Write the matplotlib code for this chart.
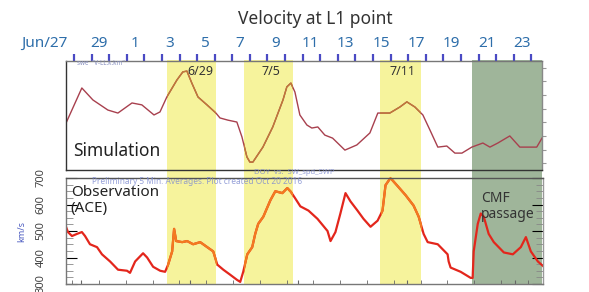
import numpy as np
import matplotlib.pyplot as plt
from matplotlib.patches import Rectangle

plt.rcParams['font.family'] = ['Noto Sans', 'DejaVu Sans']

# day index: 0 = Jun 27
day_labels = ["Jun/27", "29", "1", "3", "5", "7", "9", "11", "13", "15", "17", "19", "21", "23"]
label_days = list(range(0, 27, 2))

yellow_bands = [(5.28, 8.1), (9.66, 12.44), (17.4, 19.75)]
green_band = (22.6, 26.6)
band_notes = ["6/29", "7/5", "7/11"]

# simulation (top panel), km/s
sim_day = [-0.45, 0.45, 1.08, 1.93, 2.5, 3.3, 3.86, 4.55, 4.89, 5.28, 5.85, 6.19, 6.42, 6.7, 7.05,
           7.56, 8.07, 8.3, 8.75, 9.26, 9.55, 9.83, 10.0, 10.17, 10.74, 11.3, 11.88, 12.1, 12.33,
           12.56, 12.84, 13.24, 13.52, 13.86, 14.26, 14.7, 15.4, 16.08, 16.82, 17.27, 17.95, 18.52,
           18.92, 19.38, 19.83, 20.23, 20.68, 21.19, 21.65, 22.05, 22.61, 23.24, 23.64, 24.09,
           24.77, 25.34, 25.8, 26.3, 26.6]
sim_v = [472, 601, 557, 520, 509, 546, 539, 502, 513, 568, 630, 660, 663, 619, 568,
         539, 509, 491, 483, 476, 421, 348, 329, 329, 384, 458, 557, 605, 619,
         586, 502, 465, 454, 458, 428, 417, 373, 392, 436, 509, 509, 531,
         550, 531, 502, 447, 384, 388, 362, 362, 384, 399, 384, 399,
         425, 384, 384, 384, 417]

# observation (ACE, bottom panel), km/s
obs_day = [-0.45, -0.34, -0.11, 0.17, 0.45, 0.63, 0.91, 1.31, 1.59, 2.05, 2.5, 3.01, 3.18, 3.47,
           3.92, 4.15, 4.49, 4.89, 5.17, 5.34, 5.57, 5.68, 5.8, 6.14, 6.42, 6.76, 7.16, 7.56, 7.9,
           8.13, 8.47, 8.86, 9.26, 9.43, 9.6, 9.83, 10.11, 10.28, 10.45, 10.74, 11.14, 11.42,
           11.82, 12.1, 12.3, 12.56, 12.84, 13.3, 13.81, 14.38, 14.55, 14.83, 15.11, 15.4, 15.68,
           16.08, 16.42, 16.82, 17.22, 17.5, 17.67, 17.95, 18.35, 18.81, 19.26, 19.55, 19.83,
           20.06, 20.63, 21.19, 21.25, 21.36, 21.93, 22.5, 22.61, 22.67, 22.9, 23.07, 23.24,
           23.52, 23.81, 24.38, 24.89, 25.34, 25.63, 25.91, 26.31, 26.65]
obs_v = [516, 496, 481, 489, 496, 481, 450, 439, 412, 385, 354, 350, 342, 385,
         416, 400, 365, 350, 346, 373, 423, 508, 462, 458, 462, 450, 458, 439, 423,
         373, 354, 335, 315, 308, 346, 412, 439, 489, 527, 554, 616, 650,
         643, 662, 648, 622, 593, 577, 546, 500, 462, 496, 566, 643, 612,
         577, 546, 516, 539, 577, 673, 700, 670, 635, 596, 554, 489,
         458, 450, 412, 385, 362, 346, 323, 323, 423, 527, 566, 554,
         489, 458, 419, 412, 439, 477, 423, 385, 365]

obs_ticks = [300, 400, 500, 600, 700]

W, H = 589, 292
fig = plt.figure(figsize=(W / 100, H / 100), dpi=100)

def box(x0, y0, x1, y1):
    return [x0 / W, 1 - y1 / H, (x1 - x0) / W, (y1 - y0) / H]

xlim = (-0.45, 26.6)
yellow = '#f6f39c'
green = '#9fb59a'

bg = fig.add_axes(box(66, 60, 542, 285), zorder=0)
bg.set_xlim(xlim)
bg.set_ylim(0, 1)
for a, b in yellow_bands:
    bg.axvspan(a, b, color=yellow, lw=0)
bg.axvspan(*green_band, color=green, lw=0)
bg.axis('off')

top = fig.add_axes(box(66, 61, 542, 170), zorder=2)
bot = fig.add_axes(box(66, 178, 543, 284), zorder=2)
for ax in (top, bot):
    ax.set_facecolor('none')
    ax.set_xlim(xlim)
    ax.set_ylim(300, 700)
    for s in ax.spines.values():
        s.set_color('#333333')
        s.set_linewidth(1.0)

# top panel lines, colour changes inside yellow bands
top.plot(sim_day, sim_v, color='#a8404e', lw=1.0)
for a, b in yellow_bands:
    ln, = top.plot(sim_day, sim_v, color='#c07a38', lw=1.0)
    ln.set_clip_path(Rectangle((a, 0), b - a, 1000, transform=top.transData))

bot.plot(obs_day, obs_v, color='#e3261c', lw=1.6)
for a, b in yellow_bands:
    ln, = bot.plot(obs_day, obs_v, color='#f37a1f', lw=1.6)
    ln.set_clip_path(Rectangle((a, 0), b - a, 1000, transform=bot.transData))

# top axis: blue day ticks
top.xaxis.set_ticks_position('top')
top.set_xticks(range(0, 27))
top.set_xticklabels([])
top.tick_params(axis='x', which='major', direction='out', length=5, width=1.6,
                color='#4a4ac4', pad=1)
top.set_yticks(np.arange(325, 700, 50))
top.yaxis.set_ticks_position('right')
top.set_yticklabels([])
top.tick_params(axis='y', direction='out', length=3, color='#999999')
top.spines['right'].set_color('#888888')
top.spines['top'].set_color('#777777')

for d, lab in zip(label_days, day_labels):
    if d == 0:
        fig.text(68 / W, 1 - 43 / H, lab, ha='right', va='center', color='#2e6eaa',
                 fontsize=11, fontweight='bold')
    else:
        top.text(d - 0.55, 1 + (61 - 43) / 109, lab, transform=top.get_xaxis_transform(),
                 ha='center', va='center', color='#2e6eaa', fontsize=11, fontweight='bold')

fig.text(0.535, 1 - 19 / H, "Velocity at L1 point", ha='center', va='center',
         fontsize=12.5, color='#333333')

for (a, b), note in zip(yellow_bands, band_notes):
    top.text(a + (b - a) * 0.55 + (0.35 if note == "6/29" else 0), 660, note,
             ha='center', va='center', fontsize=9, color='#333333')

top.text(0.015, 0.17, "Simulation", transform=top.transAxes, ha='left', va='center',
         fontsize=12.5, color='#222222')
top.text(0.2, 690, 'swe  "V-LL.k.km"', fontsize=4.5, color='#8890c0', va='center')

# bottom panel axis
bot.set_yticks(obs_ticks)
bot.set_yticklabels([str(t) for t in obs_ticks], rotation=90, va='center',
                    fontsize=8, color='#444444')
bot.set_yticks(np.arange(300, 701, 25), minor=True)
bot.tick_params(axis='y', which='major', direction='in', length=8, left=True, right=True, pad=14)
bot.tick_params(axis='y', which='minor', direction='in', length=5, left=True, right=True,
                color='#888888')
bot.set_xticks([0.4, 6.6, 12.7, 18.9, 25.0])
bot.set_xticks(np.arange(-0.1, 26.6, 1.52), minor=True)
bot.tick_params(axis='x', which='both', direction='in', length=3, labelbottom=False,
                color='#666666')
bot.spines['left'].set_color('#777777')
bot.spines['bottom'].set_color('#777777')
bot.spines['top'].set_color('#555555')
bot.spines['right'].set_color('#999999')
fig.text(22 / W, 1 - 232 / H, "km/s", rotation=90, ha='center', va='center',
         fontsize=6.5, color='#4a5ac0')

bot.text(0.01, 0.93, "Observation\n(ACE)", transform=bot.transAxes, ha='left', va='top',
         fontsize=11, color='#222222', linespacing=1.05)
bot.text(23.1, 650, "CMF\npassage", ha='left', va='top', fontsize=10, color='#333333',
         linespacing=1.1)
bot.text(1.0, 688, "Preliminary 5 Min. Averages. Plot created Oct 20 2016", fontsize=6,
         color='#7d8ad0', va='center', alpha=0.8)
fig.text(0.5, 1 - 173 / H, "DOY  vs.  SW_spd_SWP", ha='center', va='center', fontsize=5.5,
         color='#7d8ad0', alpha=0.8)

fig.savefig("out.png", dpi=100)
